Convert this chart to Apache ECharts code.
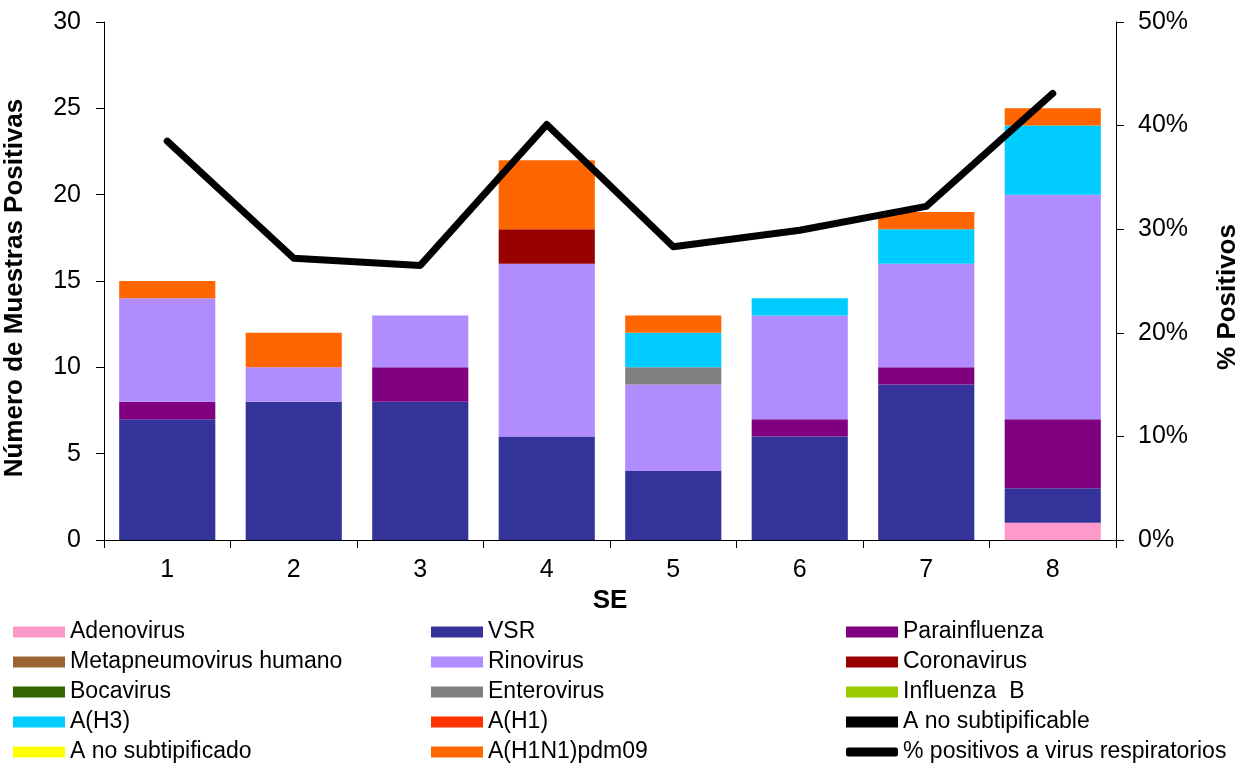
<!DOCTYPE html>
<html><head><meta charset="utf-8">
<script src="https://cdn.jsdelivr.net/npm/echarts@6/dist/echarts.min.js"></script>
<style>html,body{margin:0;padding:0;background:#fff}#c{width:1259px;height:764px}</style>
</head><body><div id="c"></div>
<script>
const categories = ['1','2','3','4','5','6','7','8'];
const adenovirus   = [0,0,0,0,0,0,0,1];
const vsr          = [7,8,8,6,4,6,9,2];
const parainfluenza= [1,0,2,0,0,1,1,4];
const metapneumo   = [0,0,0,0,0,0,0,0];
const rinovirus    = [6,2,3,10,5,6,6,13];
const coronavirus  = [0,0,0,2,0,0,0,0];
const bocavirus    = [0,0,0,0,0,0,0,0];
const enterovirus  = [0,0,0,0,1,0,0,0];
const influenzaB   = [0,0,0,0,0,0,0,0];
const aH3          = [0,0,0,0,2,1,2,4];
const aH1          = [0,0,0,0,0,0,0,0];
const aNoSubtipificable = [0,0,0,0,0,0,0,0];
const aNoSubtipificado  = [0,0,0,0,0,0,0,0];
const pdm09        = [1,2,0,4,1,0,1,1];
const pctPositivos = [38.5,27.2,26.5,40.1,28.3,29.9,32.2,43.1];
const leftTicks = {min:0,max:30,interval:5};
const rightTicks = {min:0,max:50,interval:10};

const barDefs = [
  ['Adenovirus', adenovirus, '#FF99CC'],
  ['VSR', vsr, '#333399'],
  ['Parainfluenza', parainfluenza, '#800080'],
  ['Metapneumovirus humano', metapneumo, '#996633'],
  ['Rinovirus', rinovirus, '#B18CFF'],
  ['Coronavirus', coronavirus, '#990000'],
  ['Bocavirus', bocavirus, '#336600'],
  ['Enterovirus', enterovirus, '#808080'],
  ['Influenza  B', influenzaB, '#99CC00'],
  ['A(H3)', aH3, '#00CCFF'],
  ['A(H1)', aH1, '#FF3300'],
  ['A no subtipificable', aNoSubtipificable, '#000000'],
  ['A no subtipificado', aNoSubtipificado, '#FFFF00'],
  ['A(H1N1)pdm09', pdm09, '#FF6600']
];
const lineName = '% positivos a virus respiratorios';

const font = 'Liberation Sans, Arial, sans-serif';
const series = barDefs.map(([name, data, color]) => ({
  name, type:'bar', stack:'s', data, barCategoryGap:'24%',
  itemStyle:{color}, emphasis:{disabled:true}
}));
series.push({
  name: lineName, type:'line', yAxisIndex:1, data: pctPositivos,
  symbol:'none', lineStyle:{color:'#000', width:7, cap:'round', join:'round'},
  itemStyle:{color:'#000'}, z:5
});

const legendBase = {
  orient:'vertical', itemWidth:52, itemHeight:11, itemGap:0,
  icon:'rect', selectedMode:false, height:170, padding:0,
  textStyle:{fontFamily:font, fontSize:23, color:'#000', lineHeight:30}
};
const col = (i) => barDefs.filter((_, k) => k % 3 === i).map(d => d[0]);

const chart = echarts.init(document.getElementById('c'));
chart.setOption({
  animation:false,
  grid:{left:104, right:143, top:22, bottom:224, containLabel:false, outerBoundsMode:'none'},
  xAxis:{
    type:'category', data:categories,
    name:'SE', nameLocation:'middle', nameGap:46,
    nameTextStyle:{fontFamily:font, fontSize:26, fontWeight:'bold', color:'#000'},
    axisLine:{lineStyle:{color:'#000', width:1}},
    axisTick:{show:true, length:8, lineStyle:{color:'#000'}},
    axisLabel:{fontFamily:font, fontSize:25, color:'#000', margin:18}
  },
  yAxis:[{
    type:'value', min:leftTicks.min, max:leftTicks.max, interval:leftTicks.interval,
    name:'Número de Muestras Positivas', nameLocation:'middle', nameGap:76,
    nameTextStyle:{fontFamily:font, fontSize:26, fontWeight:'bold', color:'#000', padding:[0,14,0,0]},
    axisLine:{show:true, lineStyle:{color:'#000'}},
    axisTick:{show:true, length:8, lineStyle:{color:'#000'}},
    axisLabel:{fontFamily:font, fontSize:25, color:'#000', margin:23},
    splitLine:{show:false}
  },{
    type:'value', min:rightTicks.min, max:rightTicks.max, interval:rightTicks.interval,
    position:'right',
    name:'% Positivos', nameLocation:'middle', nameGap:99,
    nameTextStyle:{fontFamily:font, fontSize:26, fontWeight:'bold', color:'#000', padding:[0,32,0,0]},
    axisLine:{show:true, lineStyle:{color:'#000'}},
    axisTick:{show:true, length:8, lineStyle:{color:'#000'}},
    axisLabel:{fontFamily:font, fontSize:25, color:'#000', margin:22, formatter:'{value}%'},
    splitLine:{show:false}
  }],
  legend:[
    Object.assign({}, legendBase, {left:13, top:617, data:col(0)}),
    Object.assign({}, legendBase, {left:431, top:617, data:col(1)}),
    Object.assign({}, legendBase, {left:846, top:617, data:col(2)}),
    Object.assign({}, legendBase, {left:846, top:737, itemHeight:9, icon:'roundRect', data:[lineName]})
  ],
  series
});
</script></body></html>
